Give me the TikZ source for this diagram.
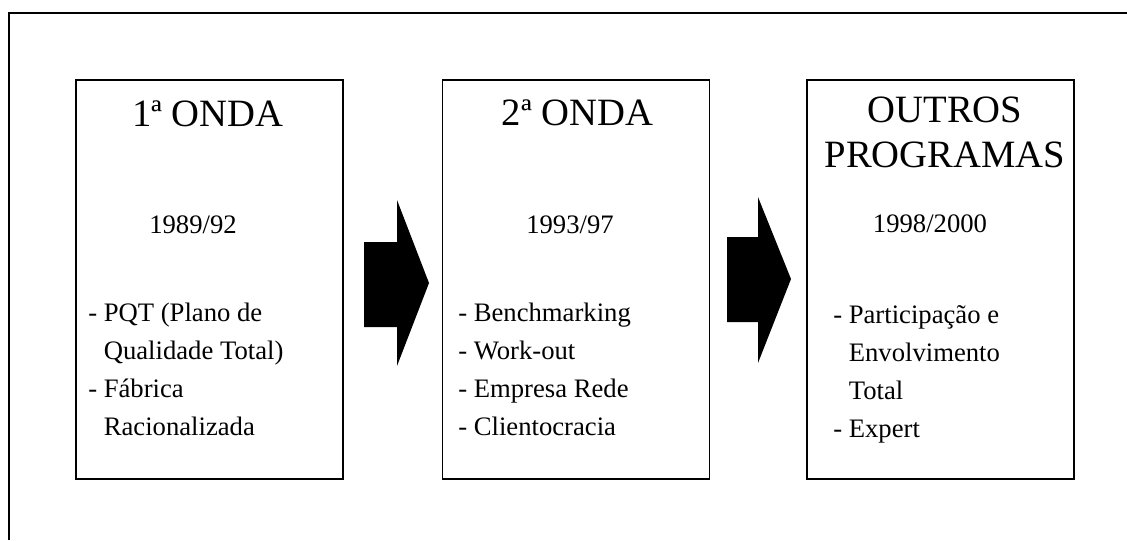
\documentclass[tikz,border=0pt]{standalone}
\usepackage{fontspec}
\setmainfont{Liberation Serif}
\begin{document}
\begin{tikzpicture}[x=0.75pt,y=-0.75pt]
\tikzset{
  onda/.style={draw, line width=1pt, minimum width=200.25pt, minimum height=299.25pt, inner sep=0pt},
  titulo/.style={font=\fontsize{29}{33.75}\selectfont, anchor=base, align=center, inner sep=0pt},
  periodo/.style={font=\fontsize{20}{24}\selectfont, anchor=base, inner sep=0pt},
  lista/.style={font=\fontsize{20}{28.5}\selectfont, anchor=base west, align=left, inner sep=0pt}
}
\useasboundingbox (0,0) rectangle (1127,540);

% moldura
\draw[line width=1.5pt] (1127,13) -- (9,13) -- (9,540);

% 1a onda
\node[onda] (onda1) at (209.5,279.5) {};
\node[titulo] (tit1) at (208,126) {1ª ONDA};
\node[periodo] (per1) at (193,233) {1989/92};
\node[lista] (lis1) at (88,435) {- PQT (Plano de\\\phantom{-} Qualidade Total)\\- Fábrica\\\phantom{-} Racionalizada};

\fill (364,242) -- (397,242) -- (397,200) -- (429,283) -- (397,366) -- (397,327) -- (364,327) -- cycle;

% 2a onda
\node[onda] (onda2) at (576,279.5) {};
\node[titulo] (tit2) at (577.5,125) {2ª ONDA};
\node[periodo] (per2) at (570,233) {1993/97};
\node[lista] (lis2) at (458,435) {- Benchmarking\\- Work-out\\- Empresa Rede\\- Clientocracia};

\fill (727,237) -- (758,237) -- (758,197) -- (791,279) -- (758,363) -- (758,322) -- (727,322) -- cycle;

% outros programas
\node[onda] (onda3) at (940.5,279.5) {};
\node[titulo] (tit3) at (945,167) {OUTROS\\PROGRAMAS};
\node[periodo] (per3) at (930,232) {1998/2000};
\node[lista] (lis3) at (833,437) {- Participação e\\\phantom{-} Envolvimento\\\phantom{-} Total\\- Expert};

\end{tikzpicture}
\end{document}
